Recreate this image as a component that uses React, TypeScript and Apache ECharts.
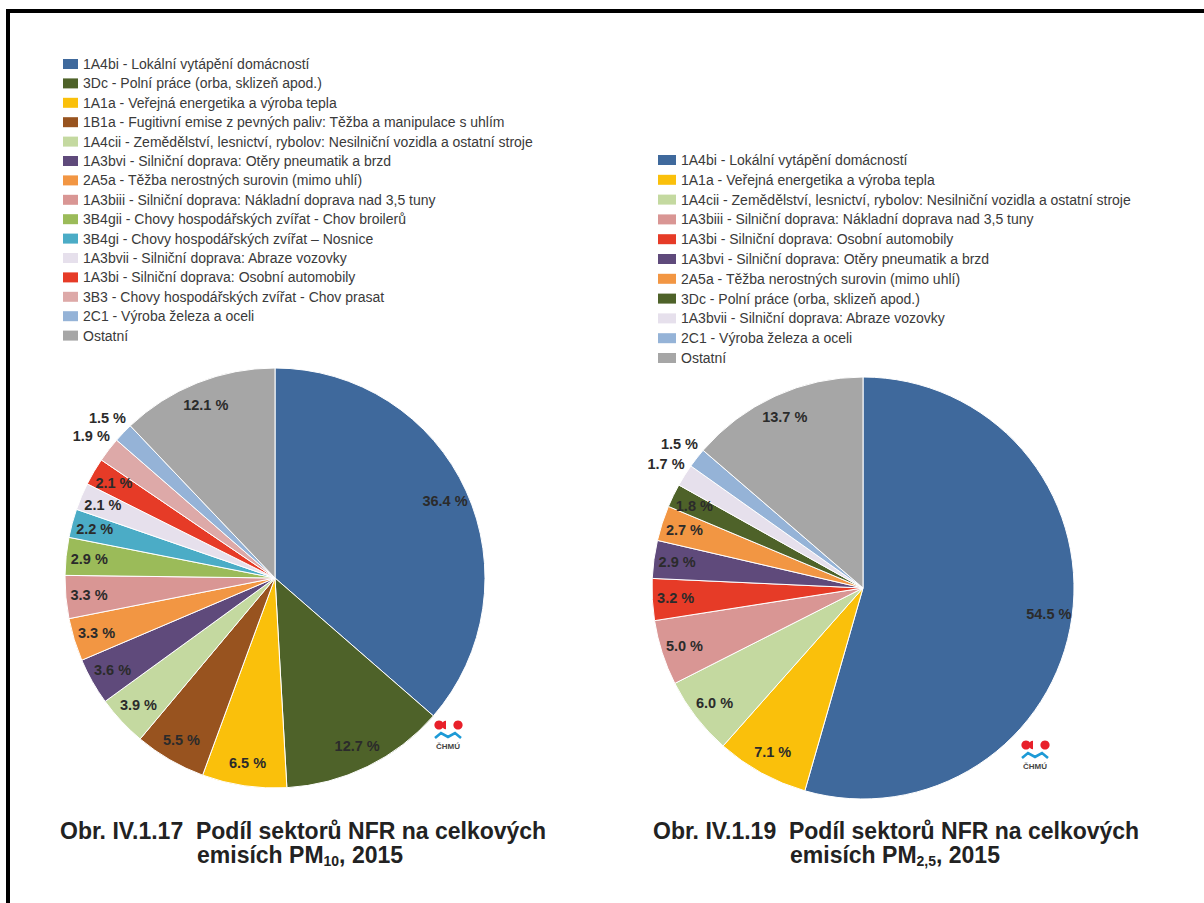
import React, { useEffect, useRef } from "react";
import * as echarts from "echarts";

// ---------- DATA ----------
const sectorNames = [
  "1A4bi - Lokální vytápění domácností",
  "3Dc - Polní práce (orba, sklizeň apod.)",
  "1A1a - Veřejná energetika a výroba tepla",
  "1B1a - Fugitivní emise z pevných paliv: Těžba a manipulace s uhlím",
  "1A4cii - Zemědělství, lesnictví, rybolov: Nesilniční vozidla a ostatní stroje",
  "1A3bvi - Silniční doprava: Otěry pneumatik a brzd",
  "2A5a - Těžba nerostných surovin (mimo uhlí)",
  "1A3biii - Silniční doprava: Nákladní doprava nad 3,5 tuny",
  "3B4gii - Chovy hospodářských zvířat - Chov broilerů",
  "3B4gi - Chovy hospodářských zvířat – Nosnice",
  "1A3bvii - Silniční doprava: Abraze vozovky",
  "1A3bi - Silniční doprava: Osobní automobily",
  "3B3 - Chovy hospodářských zvířat - Chov prasat",
  "2C1 - Výroba železa a oceli",
  "Ostatní",
];
const sectorColors = [
  "#3F699C", "#4E6229", "#FAC00B", "#98531F", "#C4D9A0",
  "#5F4A7B", "#F29643", "#D99694", "#9BBB59", "#4BACC6",
  "#E6E0EC", "#E63B27", "#DDA9A8", "#95B3D7", "#A6A6A6",
];

const pm10Names = [
  "1A4bi - Lokální vytápění domácností",
  "3Dc - Polní práce (orba, sklizeň apod.)",
  "1A1a - Veřejná energetika a výroba tepla",
  "1B1a - Fugitivní emise z pevných paliv: Těžba a manipulace s uhlím",
  "1A4cii - Zemědělství, lesnictví, rybolov: Nesilniční vozidla a ostatní stroje",
  "1A3bvi - Silniční doprava: Otěry pneumatik a brzd",
  "2A5a - Těžba nerostných surovin (mimo uhlí)",
  "1A3biii - Silniční doprava: Nákladní doprava nad 3,5 tuny",
  "3B4gii - Chovy hospodářských zvířat - Chov broilerů",
  "3B4gi - Chovy hospodářských zvířat – Nosnice",
  "1A3bvii - Silniční doprava: Abraze vozovky",
  "1A3bi - Silniční doprava: Osobní automobily",
  "3B3 - Chovy hospodářských zvířat - Chov prasat",
  "2C1 - Výroba železa a oceli",
  "Ostatní",
];
const pm10Values = [36.4, 12.7, 6.5, 5.5, 3.9, 3.6, 3.3, 3.3, 2.9, 2.2, 2.1, 2.1, 1.9, 1.5, 12.1];
const pm10OuterLabels = ["3B3 - Chovy hospodářských zvířat - Chov prasat", "2C1 - Výroba železa a oceli"];

const pm25Names = [
  "1A4bi - Lokální vytápění domácností",
  "1A1a - Veřejná energetika a výroba tepla",
  "1A4cii - Zemědělství, lesnictví, rybolov: Nesilniční vozidla a ostatní stroje",
  "1A3biii - Silniční doprava: Nákladní doprava nad 3,5 tuny",
  "1A3bi - Silniční doprava: Osobní automobily",
  "1A3bvi - Silniční doprava: Otěry pneumatik a brzd",
  "2A5a - Těžba nerostných surovin (mimo uhlí)",
  "3Dc - Polní práce (orba, sklizeň apod.)",
  "1A3bvii - Silniční doprava: Abraze vozovky",
  "2C1 - Výroba železa a oceli",
  "Ostatní",
];
const pm25Values = [54.5, 7.1, 6.0, 5.0, 3.2, 2.9, 2.7, 1.8, 1.7, 1.5, 13.7];
const pm25OuterLabels = ["1A3bvii - Silniční doprava: Abraze vozovky", "2C1 - Výroba železa a oceli"];

const pm10TitleLine1 = "Obr. IV.1.17  Podíl sektorů NFR na celkových";
const pm10TitleLine2 = ["emisích PM", "10", ", 2015"];
const pm25TitleLine1 = "Obr. IV.1.19  Podíl sektorů NFR na celkových";
const pm25TitleLine2 = ["emisích PM", "2,5", ", 2015"];
const logoText = "ČHMÚ";

// ---------- HELPERS ----------
const colorOf = (n: string) => sectorColors[sectorNames.indexOf(n)];
const SANS = '"Liberation Sans", Arial, sans-serif';

function buildPie(
  names: string[],
  values: number[],
  outer: string[],
  center: [number, number],
  r: number
) {
  const labelStyle = {
    show: true,
    position: "inside",
    formatter: (p: any) => Number(p.value).toFixed(1) + " %",
    fontSize: 14.5,
    fontWeight: "bold",
    fontFamily: SANS,
    color: "#2b2b2b",
  };
  const main = {
    type: "pie",
    center,
    radius: [0, r],
    startAngle: 90,
    clockwise: true,
    silent: true,
    label: { show: false },
    labelLine: { show: false },
    itemStyle: { borderColor: "#ffffff", borderWidth: 1 },
    emphasis: { disabled: true },
    data: names.map((n, i) => ({ name: n, value: values[i], itemStyle: { color: colorOf(n) } })),
  };
  const ring = (inner: number, outerR: number, showFn: (n: string) => boolean) => ({
    type: "pie",
    center,
    radius: [inner, outerR],
    startAngle: 90,
    clockwise: true,
    silent: true,
    legendHoverLink: false,
    avoidLabelOverlap: false,
    minShowLabelAngle: 0,
    itemStyle: { color: "rgba(0,0,0,0)", borderWidth: 0 },
    labelLine: { show: false },
    emphasis: { disabled: true },
    label: labelStyle,
    data: names.map((n, i) => ({ name: n, value: values[i], label: { show: showFn(n) } })),
  });
  return [
    main,
    ring(r * 0.79, r * 0.96, (n) => !outer.includes(n)),
    ring(r * 1.0, r * 1.18, (n) => outer.includes(n)),
  ];
}

function logo(cx: number, cy: number) {
  return [
    { type: "circle", shape: { cx: cx - 9, cy, r: 4.6 }, style: { fill: "#E8202A" } },
    {
      type: "sector",
      shape: { cx: cx - 2, cy, r0: 0, r: 4.2, startAngle: Math.PI / 2, endAngle: (Math.PI * 3) / 2 },
      style: { fill: "#E8202A" },
    },
    { type: "circle", shape: { cx: cx + 10, cy, r: 4.6 }, style: { fill: "#E8202A" } },
    {
      type: "polyline",
      shape: {
        points: [
          [cx - 13, cy + 13],
          [cx - 7, cy + 8],
          [cx, cy + 12],
          [cx + 7, cy + 8],
          [cx + 13, cy + 13],
        ],
      },
      style: { stroke: "#1D9AD6", lineWidth: 2.6, fill: null },
    },
    {
      type: "text",
      x: cx,
      y: cy + 21,
      style: {
        text: logoText,
        font: "bold 8px " + SANS,
        fill: "#444",
        align: "center",
        verticalAlign: "middle",
      },
    },
  ];
}

function titleTexts(x1: number, x2: number, y: number, l1: string, l2: string[]) {
  return [
    {
      type: "text",
      x: x1,
      y,
      style: {
        text: l1,
        font: "bold 23px " + SANS,
        fill: "#222",
        verticalAlign: "middle",
      },
    },
    {
      type: "text",
      x: x2,
      y: y + 24,
      style: {
        text: `{m|${l2[0]}}{s|${l2[1]}}{m|${l2[2]}}`,
        verticalAlign: "middle",
        rich: {
          m: { fontSize: 23, fontWeight: "bold", fontFamily: SANS, fill: "#222", lineHeight: 26 },
          s: {
            fontSize: 14,
            fontWeight: "bold",
            fontFamily: SANS,
            fill: "#222",
            lineHeight: 14,
            verticalAlign: "bottom",
          },
        },
      },
    },
  ];
}

export default function App() {
  const ref = useRef<HTMLDivElement>(null);
  useEffect(() => {
    document.body.style.margin = "0";
    if (!ref.current) return;
    const chart = echarts.init(ref.current, null, { renderer: "svg" });
    const legendCommon = {
      orient: "vertical",
      icon: "rect",
      itemWidth: 15,
      itemHeight: 10,
      itemGap: 5.4,
      selectedMode: false,
      itemStyle: { borderWidth: 0 },
      textStyle: { fontSize: 14, fontFamily: SANS, color: "#3a3a3a" },
    };
    chart.setOption({
      animation: false,
      backgroundColor: "#ffffff",
      legend: [
        { ...legendCommon, left: 58, top: 52, itemGap: 5.4, data: pm10Names },
        { ...legendCommon, left: 653, top: 148, itemWidth: 18, itemGap: 5.8, data: pm25Names },
      ],
      series: [
        ...buildPie(pm10Names, pm10Values, pm10OuterLabels, [275, 578], 210),
        ...buildPie(pm25Names, pm25Values, pm25OuterLabels, [863, 588], 211),
      ],
      graphic: [
        { type: "rect", shape: { x: 6, y: 9, width: 1198, height: 4 }, style: { fill: "#000" } },
        { type: "rect", shape: { x: 6, y: 9, width: 4, height: 894 }, style: { fill: "#000" } },
        ...logo(448, 725),
        ...logo(1035, 745),
        ...titleTexts(60, 197, 831, pm10TitleLine1, pm10TitleLine2),
        ...titleTexts(653, 790, 831, pm25TitleLine1, pm25TitleLine2),
      ],
    });
    return () => chart.dispose();
  }, []);
  return <div ref={ref} style={{ width: 1204, height: 903 }} />;
}
